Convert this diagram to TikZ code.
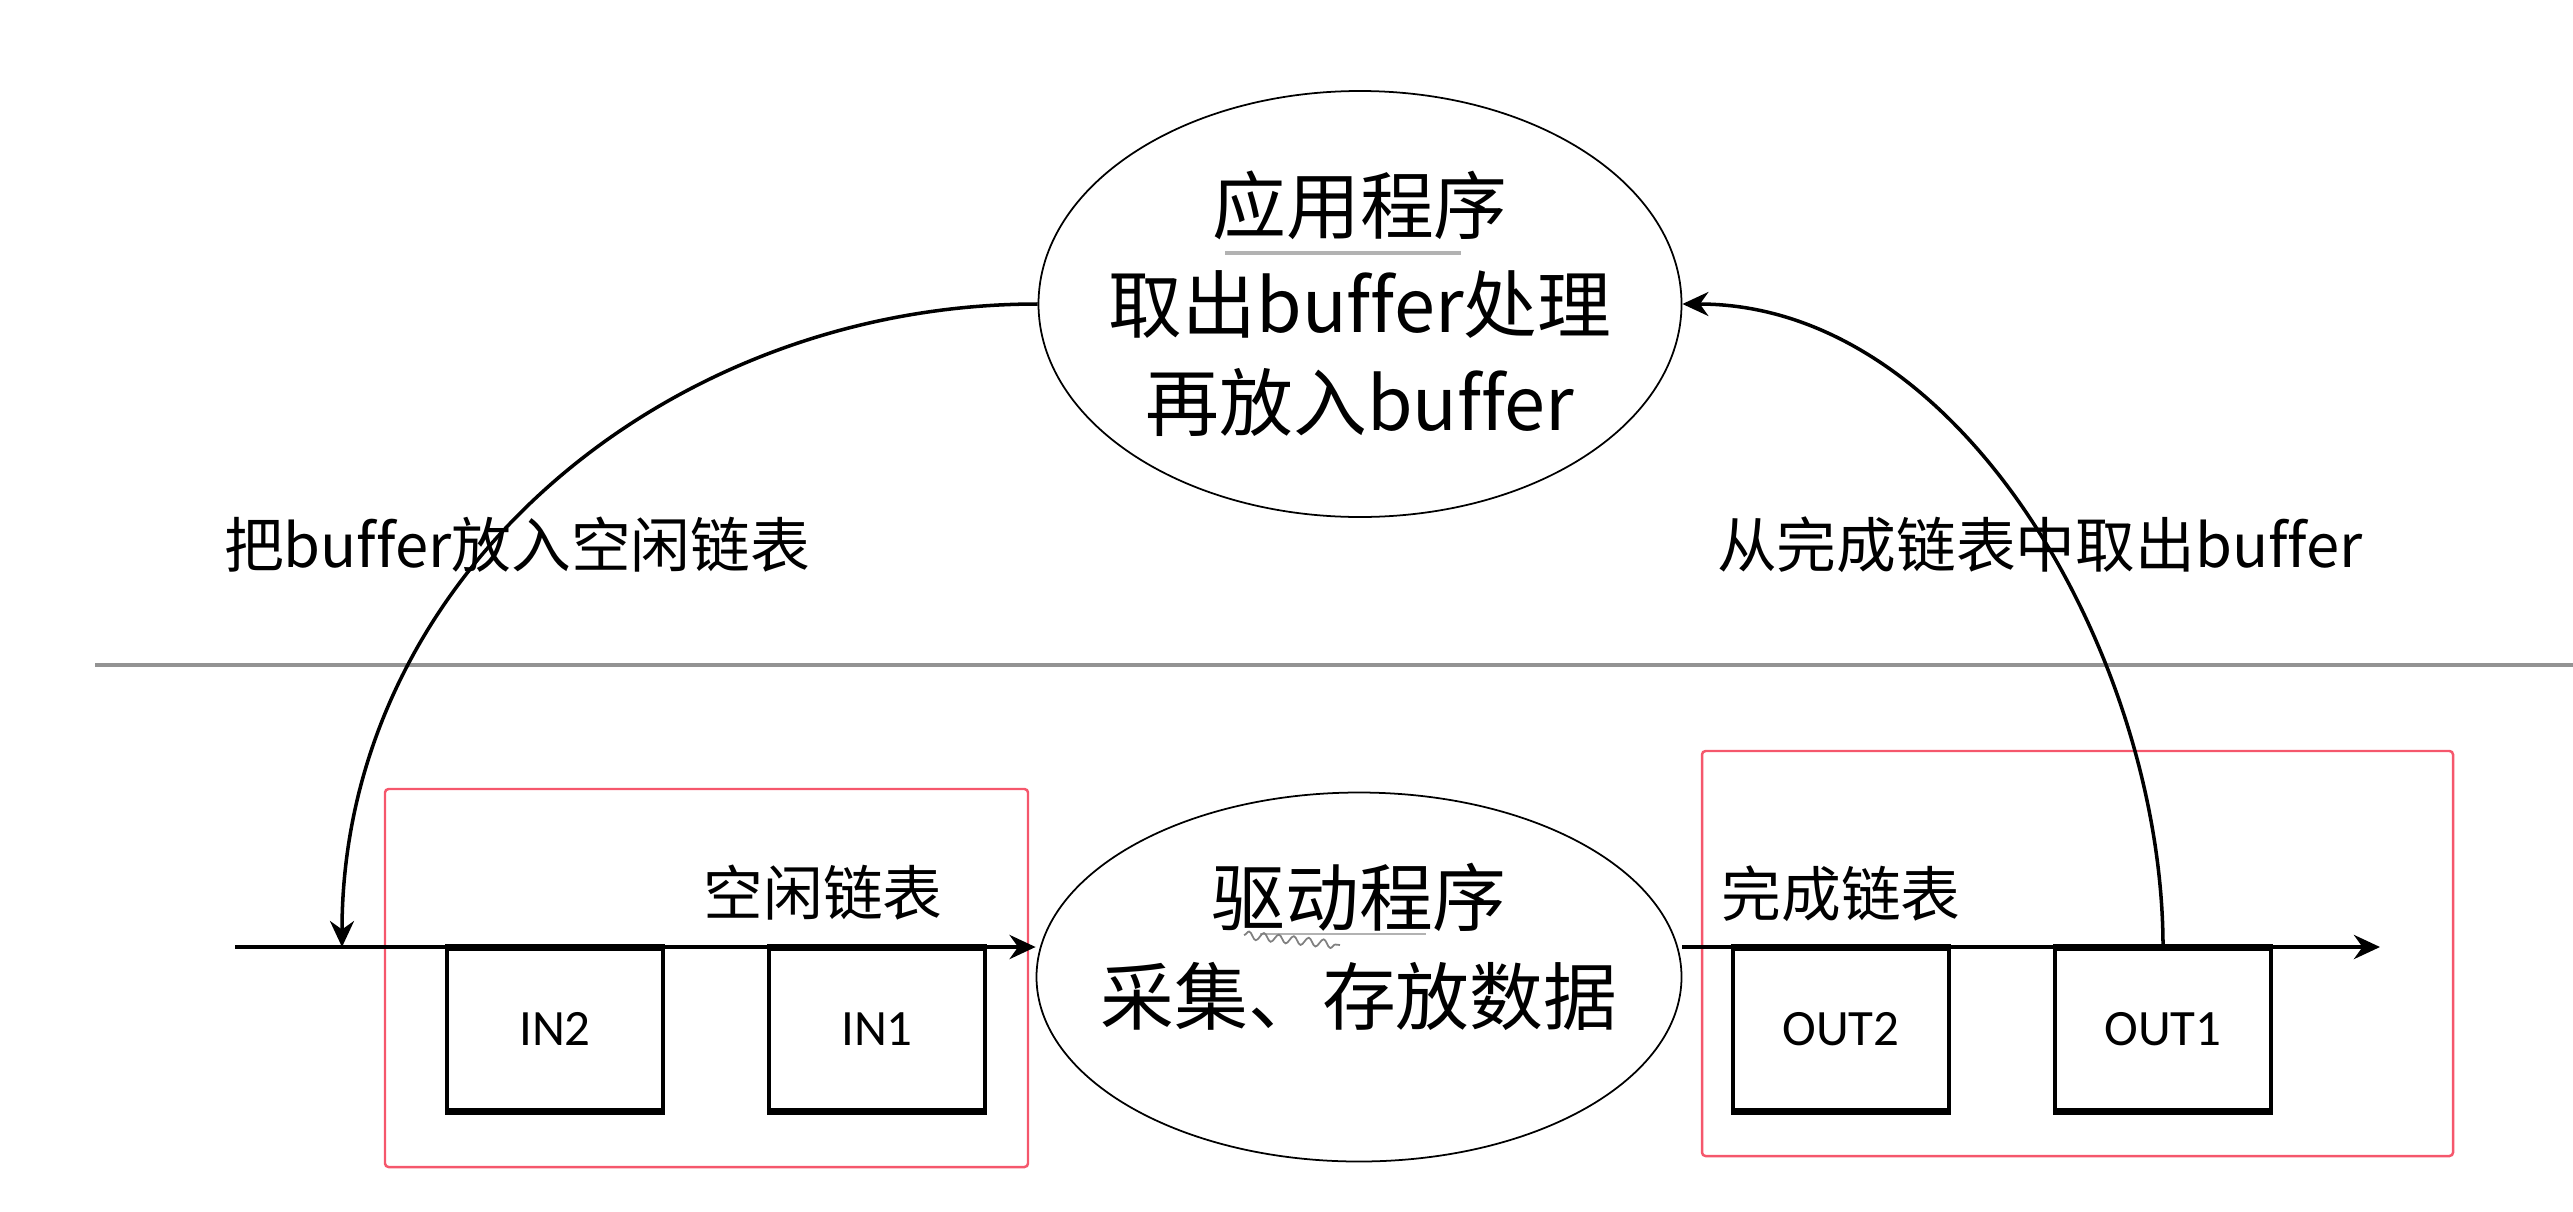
\documentclass[tikz,border=0pt]{standalone}
\usepackage{fontspec}
\newfontfamily\cjk[Ligatures=NoCommon]{Noto Sans CJK SC}
\newfontfamily\boxfont{Carlito}
\usetikzlibrary{shapes.geometric,arrows.meta,decorations.pathmorphing}
\definecolor{listred}{RGB}{245,87,108}
\tikzset{
  prog/.style={draw, ellipse, line width=0.5pt, inner sep=0pt},
  progtext/.style={align=center, font=\cjk\fontsize{21pt}{28pt}\selectfont},
  buf/.style={draw, line width=1.1pt, minimum width=2.16cm, minimum height=1.61cm, anchor=north, font=\boxfont\fontsize{14.5pt}{17pt}\selectfont},
  lbl/.style={font=\cjk\fontsize{17pt}{20pt}\selectfont},
  flow/.style={line width=1pt, -{Stealth[length=2.6mm,width=2.4mm]}},
  listbox/.style={draw=listred, line width=0.7pt, rounded corners=1pt}
}

\begin{document}
\begin{tikzpicture}
\useasboundingbox (0,0) rectangle (25.73,12.11);

% application and driver
\node[prog, minimum width=6.43cm, minimum height=4.26cm] (app) at (13.60,9.07) {};
\node[progtext] (apptxt) at (app.center) {应用程序\\取出buffer处理\\再放入buffer};
\node[prog, minimum width=6.45cm, minimum height=3.69cm] (drv) at (13.59,2.34) {};
\node[progtext] (drvtxt) at (13.59,2.64) {驱动程序\\采集、存放数据};

% spell check marks
\draw[gray!60, line width=1.2pt] (12.25,9.58) -- (14.61,9.58);
\draw[gray!60, line width=0.8pt] (12.6,2.77) -- (14.26,2.77);
\draw[gray, line width=0.5pt, decorate, decoration={snake, amplitude=0.4mm, segment length=1.5mm}] (12.44,2.76) -- (13.4,2.66);

% dividing line
\draw[gray!85, line width=1pt] (0.95,5.46) -- (25.73,5.46);

% lists
\draw[listbox] (3.85,0.44) rectangle (10.28,4.22);
\draw[listbox] (17.02,0.55) rectangle (24.53,4.60);

\coordinate (axisL) at (2.35,2.64);
\coordinate (axisR) at (23.80,2.64);
\coordinate (freeIn) at (3.42,2.64);
\draw[flow, line width=1.3pt] (axisL) -- (axisL -| drv.west);
\draw[flow, line width=1.3pt] (axisR -| drv.east) -- (axisR);

% buffers
\node[buf] (in2) at (5.55,2.64) {IN2};
\node[buf] (in1) at (8.77,2.64) {IN1};
\node[buf] (out2) at (18.41,2.64) {OUT2};
\node[buf] (out1) at (21.63,2.64) {OUT1};
\foreach \b in {in2,in1,out2,out1}{
  \draw[line width=1.8pt] (\b.north west) -- (\b.north east);
  \draw[line width=1.8pt] (\b.south west) -- (\b.south east);
}

% labels
\node[lbl] (freelbl) at (8.23,3.18) {空闲链表};
\node[lbl] (donelbl) at (18.41,3.17) {完成链表};
\node[lbl] (putlbl) at (5.17,6.66) {把buffer放入空闲链表};
\node[lbl] (takelbl) at (20.40,6.66) {从完成链表中取出buffer};

% buffer flow
\draw[flow] (app.west) to[out=180,in=90] (freeIn);
\draw[flow] (out1.north) to[out=90,in=0,looseness=0.9] (app.east);

\end{tikzpicture}
\end{document}
